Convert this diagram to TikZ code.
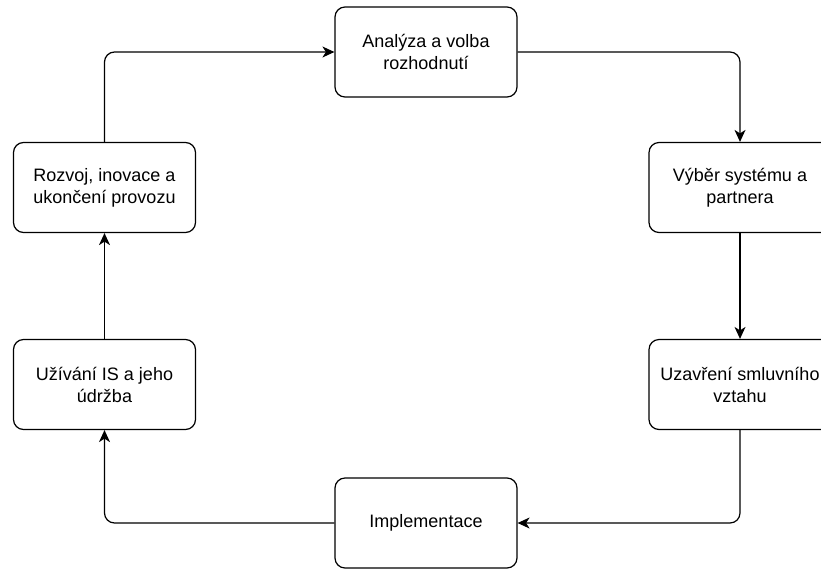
\documentclass[tikz,border=0pt]{standalone}
\usepackage{fontspec}
\setmainfont{Liberation Sans}
\usetikzlibrary{arrows.meta}
\begin{document}
\begin{tikzpicture}[x=1pt, y=-1pt,
  stage/.style={draw, line width=1.2pt, rounded corners=10pt,
    minimum width=182pt, minimum height=90pt, inner sep=0pt,
    align=center, font=\fontsize{18}{22}\selectfont},
  flow/.style={line width=1.2pt, rounded corners=10pt,
    -{Stealth[length=12pt, width=11pt, inset=3.5pt]}}]
  \useasboundingbox (0,0) rectangle (821,568);
  \clip (0,0) rectangle (821,568);
  \node[stage] (top) at (426,52)    {Analýza a volba\\rozhodnutí};
  \node[stage] (ru)  at (740,187.5) {Výběr systému a\\partnera};
  \node[stage] (rl)  at (740,384.5) {Uzavření smluvního\\vztahu};
  \node[stage] (bot) at (426,523)   {\raisebox{-2pt}{Implementace}};
  \node[stage] (ll)  at (104.5,384.5) {Užívání IS a jeho\\údržba};
  \node[stage] (lu)  at (104.5,187.5) {Rozvoj, inovace a\\ukončení provozu};
  \draw[flow] (lu.north) |- (top.west);
  \draw[flow] (top.east) -| (ru.north);
  \draw[flow] (ru.south) -- (rl.north);
  \draw[flow] (rl.south) |- (bot.east);
  \draw[flow] (bot.west) -| (ll.south);
  \draw[flow] (ll.north) -- (lu.south);
\end{tikzpicture}
\end{document}
